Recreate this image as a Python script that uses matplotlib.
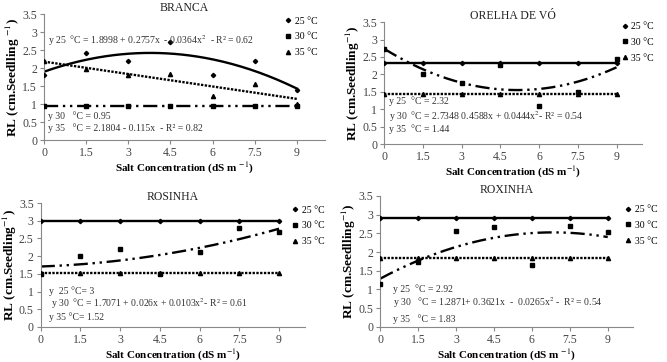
import numpy as np
import matplotlib
matplotlib.use("Agg")
import matplotlib.pyplot as plt

plt.rcParams['font.family'] = ['Liberation Serif', 'DejaVu Serif']
plt.rcParams['mathtext.fontset'] = 'stix'

# salt concentration (dS m-1)
salt = [0, 1.5, 3, 4.5, 6, 7.5, 9]

# root length observations per cultivar and temperature
branca_25 = [1.82, 2.42, 2.20, 2.72, 1.80, 2.20, 1.38]
branca_30 = [0.95, 0.95, 0.95, 0.95, 0.95, 0.95, 0.95]
branca_35 = [2.20, 1.98, 1.80, 1.85, 1.22, 1.57, 1.00]

orelha_25 = [2.32, 2.32, 2.32, 2.32, 2.32, 2.32, 2.32]
orelha_30 = [2.72, 2.02, 1.74, 2.27, 1.08, 1.48, 2.45]
orelha_35 = [1.44, 1.44, 1.44, 1.44, 1.44, 1.44, 1.44]

rosinha_25 = [3.0, 3.0, 3.0, 3.0, 3.0, 3.0, 3.0]
rosinha_30 = [1.50, 2.00, 2.20, 1.50, 2.12, 2.80, 2.68]
rosinha_35 = [1.52, 1.52, 1.52, 1.52, 1.52, 1.52, 1.52]

roxinha_25 = [2.92, 2.92, 2.92, 2.92, 2.92, 2.92, 2.92]
roxinha_30 = [1.15, 1.72, 2.57, 2.68, 1.65, 2.70, 2.53]
roxinha_35 = [1.83, 1.83, 1.83, 1.83, 1.83, 1.83, 1.83]

# regression coefficients (c0, c1, c2)
branca_fit = [(1.8998, 0.2757, -0.0364), (0.95, 0, 0), (2.1804, -0.115, 0)]
orelha_fit = [(2.32, 0, 0), (2.7348, -0.4588, 0.0444), (1.44, 0, 0)]
rosinha_fit = [(3.0, 0, 0), (1.7071, 0.026, 0.0103), (1.52, 0, 0)]
roxinha_fit = [(2.92, 0, 0), (1.2871, 0.3621, -0.0265), (1.83, 0, 0)]

temps = ['25 °C', '30 °C', '35 °C']
markers = ['D', 's', '^']
msizes = [2.2, 3.0, 3.0]
lstyles = ['-', (0, (6, 2, 1, 2, 1, 2)), (0, (1, 0.6))]

panels = [
    ('BRANCA', [branca_25, branca_30, branca_35], branca_fit,
     [0.066, 0.613, 0.421, 0.348],
     [(0.15, 2.76, 'y 25  °C = 1.8998 + 0.2757x  - 0.0364x$^2$  - R² = 0.62'),
      (0.15, 0.67, 'y 30   °C = 0.95'),
      (0.15, 0.34, 'y 35   °C = 2.1804 - 0.115x  - R² = 0.82')],
     (0.86, 0.98), 'RL (cm.Seedlling $^{-1}$)', 'Salt Concentration (dS m $^{-1}$)'),
    ('ORELHA DE VÓ', [orelha_25, orelha_30, orelha_35], orelha_fit,
     [0.576, 0.602, 0.387, 0.337],
     [(0.2, 1.23, 'y 25  °C = 2.32'),
      (0.2, 0.78, 'y 30  °C = 2.7348 0.4588x + 0.0444x$^2$- R² = 0.54'),
      (0.2, 0.42, 'y 35  °C = 1.44')],
     (0.92, 1.0), 'RL (cm.Seedlling$^{-1}$)', 'Salt Concentration (dS m$^{-1}$)'),
    ('ROSINHA', [rosinha_25, rosinha_30, rosinha_35], rosinha_fit,
     [0.061, 0.097, 0.397, 0.342],
     [(0.3, 1.0, 'y  25 °C= 3'),
      (0.4, 0.65, 'y 30  °C = 1.7071 + 0.026x + 0.0103x$^2$- R² = 0.61'),
      (0.3, 0.27, 'y 35 °C= 1.52')],
     (0.95, 0.98), 'RL (cm.Seedling$^{-1}$)', 'Salt Concentration (dS m$^{-1}$)'),
    ('ROXINHA', [roxinha_25, roxinha_30, roxinha_35], roxinha_fit,
     [0.570, 0.097, 0.379, 0.362],
     [(0.5, 1.02, 'y 25  °C = 2.92'),
      (0.5, 0.65, 'y 30   °C = 1.2871+ 0.3621x  -  0.0265x$^2$ -  R² = 0.54'),
      (0.5, 0.2, 'y 35   °C = 1.83')],
     (0.97, 0.93), 'RL (cm.Seedlling$^{-1}$)', 'Salt Concentration (dS m $^{-1}$)'),
]

fig = plt.figure(figsize=(6.67, 3.62), dpi=100)
xs = np.linspace(0, 9, 200)

for title, series, fits, pos, texts, leg_anchor, ylab, xlab in panels:
    ax = fig.add_axes(pos)
    for i in range(3):
        ax.plot(salt, series[i], linestyle='none', marker=markers[i],
                markersize=msizes[i], color='black', label=temps[i], zorder=3)
        c0, c1, c2 = fits[i]
        ax.plot(xs, c0 + c1 * xs + c2 * xs ** 2, linestyle=lstyles[i],
                color='black', linewidth=1.7, zorder=2)
    ax.set_xlim(0, 10)
    ax.set_ylim(0, 3.5)
    ax.set_xticks(salt)
    ax.set_xticklabels(['0', '1.5', '3', '4.5', '6', '7.5', '9'])
    ax.set_yticks(np.arange(0, 3.6, 0.5))
    ax.set_yticklabels(['0', '0.5', '1', '1.5', '2', '2.5', '3', '3.5'])
    for s in ['top', 'right']:
        ax.spines[s].set_visible(False)
    for s in ['left', 'bottom']:
        ax.spines[s].set_color('#888888')
        ax.spines[s].set_linewidth(0.8)
    ax.tick_params(labelsize=8.5, color='#888888', length=3, width=0.8,
                   labelcolor='#444444', pad=2)
    ax.set_title(title, fontsize=8.5, pad=2, color='#222222')
    ax.set_ylabel(ylab, fontsize=9.5, fontweight='bold', labelpad=0)
    ax.set_xlabel(xlab, fontsize=8, fontweight='bold', labelpad=1)
    for tx, ty, t in texts:
        ax.text(tx, ty, t, fontsize=7, va='center', ha='left', color='#333333')
    ax.legend(loc='upper left', bbox_to_anchor=leg_anchor, frameon=False,
              fontsize=7, handlelength=0.6, handletextpad=0.4,
              labelspacing=0.7, borderaxespad=0, borderpad=0)

fig.savefig('out.png', dpi=100)
